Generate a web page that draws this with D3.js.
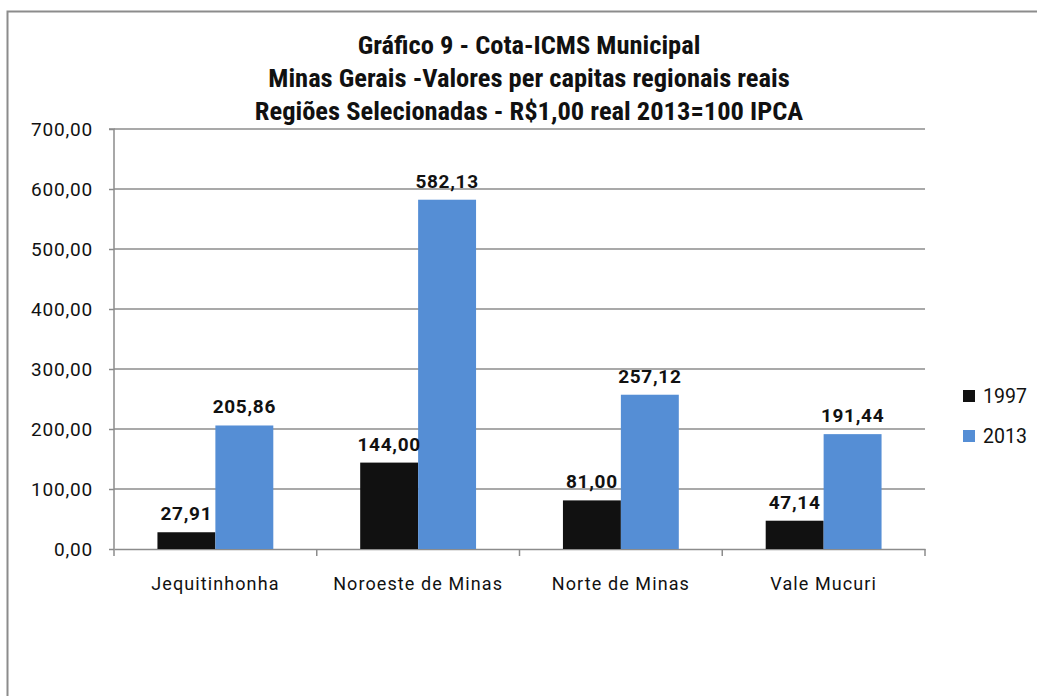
<!DOCTYPE html>
<html><head><meta charset="utf-8">
<script src="https://cdn.jsdelivr.net/npm/d3@7"></script>
<style>
html,body{margin:0;padding:0;background:#fff;}
svg{display:block;}
</style></head>
<body>
<script>
const categories = ["Jequitinhonha", "Noroeste de Minas", "Norte de Minas", "Vale Mucuri"];
const seriesNames = ["1997", "2013"];
const values1997 = [27.91, 144.00, 81.00, 47.14];
const values2013 = [205.86, 582.13, 257.12, 191.44];
const yTicks = [0, 100, 200, 300, 400, 500, 600, 700];
const titleLines = ["Gráfico 9 - Cota-ICMS Municipal",
  "Minas Gerais -Valores per capitas regionais reais",
  "Regiões Selecionadas - R$1,00 real 2013=100 IPCA"];
const colors = ["#111111", "#558ED5"];

const W = 1037, H = 696;
const fmt = v => d3.format(".2f")(v).replace(".", ",");

const svg = d3.select("body").append("svg").attr("width", W).attr("height", H);

// frame
svg.append("path").attr("d", `M7.5,${H} L7.5,11.5 L${W},11.5`)
  .attr("fill", "none").attr("stroke", "#8c8c8c").attr("stroke-width", 2);

const x0 = d3.scaleBand().domain(categories).range([114, 925]).paddingInner(0).paddingOuter(0);
const x1 = d3.scaleBand().domain(seriesNames).range([0, x0.bandwidth()]).paddingInner(0).paddingOuter(0.75);
const y = d3.scaleLinear().domain([0, 700]).range([549, 129]);

// gridlines
svg.append("g").selectAll("line").data(yTicks.filter(d => d > 0)).join("line")
  .attr("x1", 114).attr("x2", 925).attr("y1", d => y(d)).attr("y2", d => y(d))
  .attr("stroke", "#8c8c8c").attr("stroke-width", 1.5);

// y axis
const yAxis = svg.append("g").attr("transform", "translate(114,0)")
  .call(d3.axisLeft(y).tickValues(yTicks).tickFormat(fmt).tickSize(5).tickPadding(16));
yAxis.select(".domain").attr("stroke", "#8c8c8c").attr("stroke-width", 1.5).attr("d", `M-5,${y(700)}H0V${y(0)}`);
yAxis.selectAll(".tick line").attr("stroke", "#8c8c8c").attr("stroke-width", 1.5);
yAxis.selectAll(".tick text").attr("font-family", "Roboto, 'Liberation Sans', sans-serif")
  .attr("font-size", 19).attr("fill", "#111").attr("letter-spacing", 0.8);

// x axis
const xAxis = svg.append("g").attr("transform", `translate(0,${y(0)})`)
  .call(d3.axisBottom(x0).tickSize(0).tickPadding(0));
xAxis.select(".domain").attr("stroke", "#8c8c8c").attr("stroke-width", 1.5);
xAxis.selectAll(".tick text").attr("dy", 0).attr("y", 41)
  .attr("font-family", "Roboto, 'Liberation Sans', sans-serif")
  .attr("font-size", 18).attr("fill", "#111").attr("letter-spacing", 1.1);
// category separators
const seps = [...categories.map(c => x0(c)), x0(categories[categories.length - 1]) + x0.bandwidth()];
svg.append("g").selectAll("line").data(seps).join("line")
  .attr("x1", d => d).attr("x2", d => d).attr("y1", y(0)).attr("y2", y(0) + 7)
  .attr("stroke", "#8c8c8c").attr("stroke-width", 1.5);

// bars
const data = categories.map((c, i) => ({cat: c, vals: [values1997[i], values2013[i]]}));
const groups = svg.append("g").selectAll("g").data(data).join("g")
  .attr("transform", d => `translate(${x0(d.cat)},0)`);
groups.selectAll("rect").data(d => d.vals.map((v, j) => ({s: seriesNames[j], v, j}))).join("rect")
  .attr("x", d => x1(d.s)).attr("width", x1.bandwidth())
  .attr("y", d => y(d.v)).attr("height", d => y(0) - y(d.v))
  .attr("fill", d => colors[d.j]);
groups.selectAll("text").data(d => d.vals.map((v, j) => ({s: seriesNames[j], v, j}))).join("text")
  .attr("x", d => x1(d.s) + x1.bandwidth() / 2).attr("y", d => y(d.v) - 12)
  .attr("text-anchor", "middle").attr("font-family", "Roboto, 'Liberation Sans', sans-serif")
  .attr("font-weight", "bold").attr("font-size", 19).attr("fill", "#111").attr("letter-spacing", 0.7)
  .text(d => fmt(d.v));

// title
svg.append("g").selectAll("text").data(titleLines).join("text")
  .attr("x", 529).attr("y", (d, i) => 54 + i * 33)
  .attr("text-anchor", "middle")
  .attr("font-family", "'Liberation Sans Narrow', 'Roboto Condensed', 'Liberation Sans', sans-serif")
  .attr("font-weight", "bold").attr("font-size", 26.5).attr("fill", "#111")
  .text(d => d);

// legend
const leg = svg.append("g").selectAll("g").data(seriesNames).join("g")
  .attr("transform", (d, i) => `translate(963,${390 + i * 40})`);
leg.append("rect").attr("width", 12).attr("height", 12).attr("fill", (d, i) => colors[i]);
leg.append("text").attr("x", 20).attr("y", 13).attr("font-family", "Roboto, 'Liberation Sans', sans-serif")
  .attr("font-size", 19.5).attr("fill", "#111").text(d => d);
</script>
</body></html>
